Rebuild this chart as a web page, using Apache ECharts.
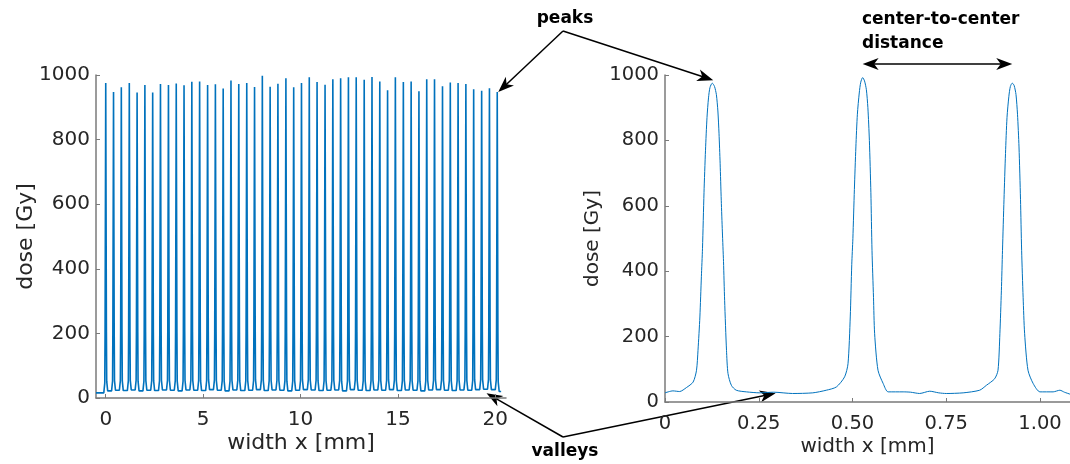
<!DOCTYPE html>
<html>
<head>
<meta charset="utf-8">
<script src="https://cdn.jsdelivr.net/npm/echarts@6/dist/echarts.min.js"></script>
<style>
  html, body { margin: 0; padding: 0; background: #ffffff; }
  #chart { width: 1070px; height: 464px; }
</style>
</head>
<body>
<div id="chart"></div>
<script>
// ---- Left panel: dose profile across the whole irradiated width ----
// peak centres (mm) and peak doses (Gy)
const peakPos = [
  0.00, 0.40, 0.80, 1.21, 1.61, 2.01, 2.41, 2.81, 3.22, 3.62,
  4.02, 4.42, 4.82, 5.23, 5.63, 6.03, 6.43, 6.83, 7.24, 7.64,
  8.04, 8.44, 8.84, 9.25, 9.65, 10.05, 10.45, 10.85, 11.26, 11.66,
  12.06, 12.46, 12.86, 13.27, 13.67, 14.07, 14.47, 14.87, 15.28, 15.68,
  16.08, 16.48, 16.88, 17.29, 17.69, 18.09, 18.49, 18.89, 19.30, 19.70,
  20.10
];
const peakDose = [
  975, 947, 962, 975, 946, 969, 946, 972, 969, 974,
  968, 979, 980, 969, 971, 958, 983, 972, 975, 963,
  998, 964, 973, 990, 962, 975, 993, 978, 970, 987,
  990, 993, 993, 985, 994, 980, 953, 993, 978, 980,
  950, 987, 987, 965, 977, 975, 972, 956, 951, 959,
  947
];
// valley floor before, between and after the peaks (Gy)
const valleyDose = [
  16, 22, 24, 23, 25, 22, 24, 23, 25, 24,
  22, 25, 24, 23, 26, 24, 22, 25, 23, 24,
  26, 23, 25, 24, 22, 24, 26, 25, 23, 24,
  25, 22, 26, 24, 23, 25, 24, 26, 23, 25,
  24, 22, 25, 26, 24, 23, 25, 24, 26, 27,
  26, 20
];
const profileStart = -0.5;
const profileEnd = 20.3;

// ---- Right panel: close-up of three peaks ----
const zoomX = [
  0.000, 0.021, 0.039, 0.057, 0.075, 0.084, 0.088, 0.093, 0.097, 0.100,
  0.104, 0.108, 0.112, 0.116, 0.120, 0.126, 0.132, 0.137, 0.141, 0.144,
  0.147, 0.150, 0.153, 0.156, 0.159, 0.164, 0.168, 0.177, 0.190, 0.217,
  0.253, 0.290, 0.340, 0.394, 0.430, 0.457, 0.479, 0.488, 0.494, 0.498,
  0.501, 0.505, 0.509, 0.513, 0.518, 0.522, 0.527, 0.532, 0.537, 0.541,
  0.545, 0.549, 0.552, 0.556, 0.559, 0.568, 0.582, 0.595, 0.635, 0.655,
  0.679, 0.706, 0.730, 0.750, 0.795, 0.839, 0.857, 0.879, 0.888, 0.893,
  0.897, 0.900, 0.904, 0.908, 0.912, 0.917, 0.921, 0.926, 0.931, 0.936,
  0.940, 0.944, 0.948, 0.951, 0.955, 0.959, 0.968, 0.982, 1.000, 1.035,
  1.053, 1.065, 1.080
];
const zoomDose = [
  28, 34, 32, 44, 61, 97, 158, 260, 383, 470,
  640, 770, 870, 930, 962, 975, 965, 940, 890, 822,
  730, 617, 520, 430, 311, 158, 87, 51, 36, 31,
  28, 30, 26, 28, 36, 46, 77, 117, 260, 420,
  500, 650, 780, 880, 945, 978, 992, 982, 955, 900,
  800, 640, 464, 320, 209, 97, 56, 31, 31, 30,
  26, 33, 28, 26, 28, 36, 51, 71, 97, 209,
  340, 464, 620, 760, 870, 935, 965, 975, 968, 940,
  880, 780, 620, 464, 320, 209, 97, 56, 31, 31,
  36, 30, 24
];

const leftTicks = [0, 5, 10, 15, 20];
const rightTicks = [0, 0.25, 0.5, 0.75, 1];
const rightTickLabels = ['0', '0.25', '0.50', '0.75', '1.00'];

// shape of a peak's flanks: offset from the centre (mm), rise above the valley floor (Gy)
const flank = [[0.10, 0], [0.05, 30], [0.035, 180]];

const leftData = [[profileStart, valleyDose[0]]];
peakPos.forEach((x, i) => {
  const vL = valleyDose[i], vR = valleyDose[i + 1];
  flank.forEach(([dx, dd]) => leftData.push([x - dx, vL + dd]));
  leftData.push([x, peakDose[i]]);
  flank.slice().reverse().forEach(([dx, dd]) => leftData.push([x + dx, vR + dd]));
});
leftData.push([profileEnd, valleyDose[valleyDose.length - 1]]);

const rightData = zoomX.map((x, i) => [x, zoomDose[i]]);

const FONT = 'DejaVu Sans';
const TEXT = '#262626';
const AXIS = '#7a7a7a';
const BLUE = '#0072BD';

function xAxisBase(min, max, ticks, fmt, labelSize, nameSize) {
  return {
    type: 'value', min: min, max: max,
    name: 'width x [mm]', nameLocation: 'middle', nameGap: 34, nameMoveOverlap: false,
    nameTextStyle: { color: TEXT, fontFamily: FONT, fontSize: nameSize },
    axisLine: { show: true, onZero: false, lineStyle: { color: AXIS, width: 1.5 } },
    axisTick: { show: true, inside: true, length: 4, customValues: ticks, lineStyle: { color: AXIS, width: 1 } },
    axisLabel: { color: TEXT, fontFamily: FONT, fontSize: labelSize, margin: 12, customValues: ticks, formatter: fmt },
    splitLine: { show: false }
  };
}
function yAxisBase(labelSize, nameSize, gap) {
  return {
    type: 'value', min: 0, max: 1000, interval: 200,
    name: 'dose [Gy]', nameLocation: 'middle', nameGap: gap, nameMoveOverlap: false,
    nameTextStyle: { color: TEXT, fontFamily: FONT, fontSize: nameSize },
    axisLine: { show: true, onZero: false, lineStyle: { color: AXIS, width: 1.5 } },
    axisTick: { show: true, inside: true, length: 4, lineStyle: { color: AXIS, width: 1 } },
    axisLabel: { color: TEXT, fontFamily: FONT, fontSize: labelSize, margin: 6, formatter: v => String(v) },
    splitLine: { show: false }
  };
}

const chart = echarts.init(document.getElementById('chart'), null, { renderer: 'canvas' });

chart.setOption({
  animation: false,
  backgroundColor: '#ffffff',
  grid: [
    { left: 96, top: 75, width: 410, height: 323 },
    { left: 665, top: 75, width: 405, height: 327 }
  ],
  xAxis: [
    Object.assign(xAxisBase(profileStart, 20.55, leftTicks, v => String(v), 20, 22), { gridIndex: 0 }),
    Object.assign(xAxisBase(0, 1.08, rightTicks, v => rightTickLabels[rightTicks.indexOf(v)] ?? '', 19.5, 20),
                  { gridIndex: 1, nameGap: 35 })
  ],
  yAxis: [
    Object.assign(yAxisBase(20, 22, 59), { gridIndex: 0 }),
    Object.assign(yAxisBase(19.5, 20, 62), { gridIndex: 1 })
  ],
  series: [
    {
      type: 'line', xAxisIndex: 0, yAxisIndex: 0, data: leftData,
      showSymbol: false, symbol: 'none', silent: true,
      lineStyle: { color: BLUE, width: 1.6 }
    },
    {
      type: 'line', xAxisIndex: 1, yAxisIndex: 1, data: rightData,
      showSymbol: false, symbol: 'none', silent: true, smooth: 0.25,
      lineStyle: { color: BLUE, width: 1 }
    }
  ]
});

// ---- annotations: labels and arrows pointing at features of the data ----
function px(gridIdx, pt) {
  return chart.convertToPixel({ xAxisIndex: gridIdx, yAxisIndex: gridIdx }, pt);
}
function head(from, tip) {
  const L = 16, W = 6, notch = 0.72;
  const dx = tip[0] - from[0], dy = tip[1] - from[1];
  const len = Math.hypot(dx, dy);
  const ux = dx / len, uy = dy / len, nx = -uy, ny = ux;
  const bx = tip[0] - ux * L, by = tip[1] - uy * L;
  const mx = tip[0] - ux * L * notch, my = tip[1] - uy * L * notch;
  return {
    type: 'polygon', silent: true,
    shape: { points: [tip, [bx + nx * W, by + ny * W], [mx, my], [bx - nx * W, by - ny * W]] },
    style: { fill: '#000000' }
  };
}
function arrow(from, tip) {
  const dx = tip[0] - from[0], dy = tip[1] - from[1];
  const len = Math.hypot(dx, dy);
  const end = [tip[0] - dx / len * 10, tip[1] - dy / len * 10];
  return [
    { type: 'line', silent: true, shape: { x1: from[0], y1: from[1], x2: end[0], y2: end[1] },
      style: { stroke: '#000000', lineWidth: 1.5 } },
    head(from, tip)
  ];
}
function label(text, x, y, align) {
  return {
    type: 'text', silent: true, x: x, y: y,
    style: { text: text, fill: '#000000', font: 'bold 17px "DejaVu Sans"', align: align || 'center',
             verticalAlign: 'middle' }
  };
}

const lastPeak = peakPos.length - 1;
const pkLeft = px(0, [peakPos[lastPeak], peakDose[lastPeak]]);
const pkRight = px(1, [zoomX[15], zoomDose[15]]);
const vaLeft = px(0, [19.55, 15]);
const vaRight = px(1, [0.295, 27]);
const c2 = px(1, [zoomX[46], 1000]);
const c3 = px(1, [zoomX[77], 1000]);
const ccY = c2[1] - 11;

const peaksOrigin = [563, 31];
const valleysOrigin = [563, 437];

const elements = [].concat(
  arrow(peaksOrigin, [pkLeft[0] + 1, pkLeft[1]]),
  arrow(peaksOrigin, [pkRight[0] + 1, pkRight[1] - 3]),
  arrow(valleysOrigin, [vaLeft[0], vaLeft[1]]),
  arrow(valleysOrigin, [vaRight[0], vaRight[1]]),
  [
    { type: 'line', silent: true, shape: { x1: c2[0] + 10, y1: ccY, x2: c3[0] - 10, y2: ccY },
      style: { stroke: '#000000', lineWidth: 1.5 } },
    head([c3[0], ccY], [c2[0], ccY]),
    head([c2[0], ccY], [c3[0], ccY]),
    label('peaks', 565, 19),
    label('valleys', 565, 452),
    label('center-to-center', 862, 20, 'left'),
    label('distance', 862, 44, 'left')
  ]
);

chart.setOption({ graphic: { elements: elements } });
</script>
</body>
</html>
